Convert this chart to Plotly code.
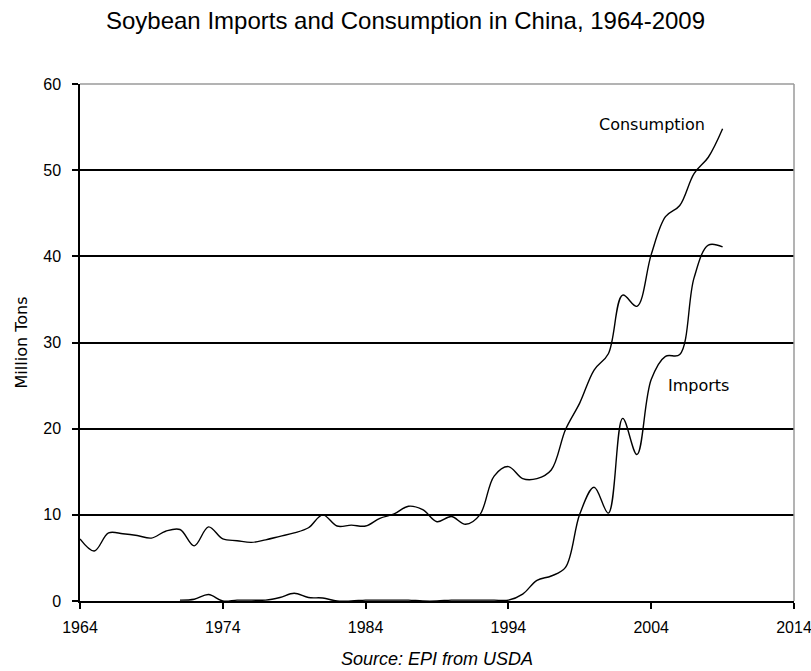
import plotly.graph_objects as go

# Annual series, 1964-2009 (million tons)
years = list(range(1964, 2010))

consumption = [
    7.2, 5.8, 7.9, 7.8, 7.6, 7.3, 8.1, 8.3, 6.4, 8.6,      # 1964-1973
    7.2, 7.0, 6.8, 7.1, 7.5, 7.9, 8.5, 10.0, 8.7, 8.8,     # 1974-1983
    8.7, 9.6, 10.1, 11.0, 10.6, 9.2, 9.8, 8.9, 10.0, 14.5, # 1984-1993
    15.6, 14.2, 14.2, 15.2, 19.9, 23.0, 26.8, 28.7, 35.5, 34.2,  # 1994-2003
    40.2, 44.6, 45.9, 49.6, 51.5, 54.8,                    # 2004-2009
]

imports = [
    None, None, None, None, None, None, None, 0.1, 0.2, 0.75,  # 1964-1973
    0.0, 0.1, 0.1, 0.1, 0.4, 0.9, 0.4, 0.35, 0.0, 0.0,         # 1974-1983
    0.1, 0.1, 0.1, 0.1, 0.0, 0.0, 0.1, 0.1, 0.1, 0.1,          # 1984-1993
    0.1, 0.8, 2.4, 2.9, 3.9, 10.1, 13.2, 10.2, 21.2, 17.0,     # 1994-2003
    25.7, 28.4, 28.6, 37.5, 41.3, 41.1,                        # 2004-2009
]

x_ticks = [1964, 1974, 1984, 1994, 2004, 2014]
y_ticks = [0, 10, 20, 30, 40, 50, 60]

FONT = "Liberation Sans, Arial, sans-serif"
LABEL_FONT = "DejaVu Sans, Verdana, sans-serif"

fig = go.Figure()

line_style = dict(color="black", width=1.4, shape="spline", smoothing=1.0)

fig.add_trace(go.Scatter(x=years, y=consumption, mode="lines", name="Consumption",
                         line=line_style, connectgaps=False, hoverinfo="x+y"))
fig.add_trace(go.Scatter(x=years, y=imports, mode="lines", name="Imports",
                         line=line_style, connectgaps=False, hoverinfo="x+y"))

# Series labels written next to the curves
fig.add_annotation(x=2004.06, y=55.3, text="Consumption", showarrow=False,
                   font=dict(family=LABEL_FONT, size=16, color="black"))
fig.add_annotation(x=2007.3, y=25.0, text="Imports", showarrow=False,
                   font=dict(family=LABEL_FONT, size=16, color="black"))

# Source note under the axis
fig.add_annotation(x=0.5, y=-0.113, xref="paper", yref="paper",
                   xanchor="center", yanchor="middle",
                   text="<i>Source: EPI from USDA</i>", showarrow=False,
                   font=dict(family=FONT, size=18, color="black"))

# Grey frame on the top and right sides of the plot area
fig.add_shape(type="line", xref="paper", yref="paper", x0=0, x1=1, y0=1, y1=1,
              line=dict(color="#9a9a9a", width=1.5), layer="above")
fig.add_shape(type="line", xref="paper", yref="paper", x0=1, x1=1, y0=0, y1=1,
              line=dict(color="#9a9a9a", width=1.5), layer="above")

fig.update_layout(
    width=811, height=671,
    margin=dict(l=80, r=17, t=84, b=70),
    paper_bgcolor="white", plot_bgcolor="white",
    showlegend=False,
    font=dict(family=FONT, size=16, color="black"),
    title=dict(text="Soybean Imports and Consumption in China, 1964-2009",
               x=0.5, xanchor="center", y=0.969, yanchor="middle",
               font=dict(family=FONT, size=24, color="black")),
    xaxis=dict(range=[1964, 2014], tickvals=x_ticks, ticktext=[str(t) for t in x_ticks],
               showgrid=False, zeroline=False, showline=True, linecolor="black", linewidth=1.5,
               ticks="outside", ticklen=6, tickcolor="black", tickwidth=1.5,
               ticklabeloverflow="allow", automargin=False,
               ticklabelstandoff=5, tickfont=dict(family=FONT, size=16, color="black")),
    yaxis=dict(range=[0, 60], tickvals=y_ticks, ticktext=[str(t) for t in y_ticks],
               showgrid=True, gridcolor="black", gridwidth=1.5, zeroline=False,
               showline=True, linecolor="black", linewidth=1.5, automargin=False,
               ticks="outside", ticklen=6, tickcolor="black", tickwidth=1.5,
               ticklabelstandoff=8, tickfont=dict(family=FONT, size=16, color="black")),
    yaxis_title=dict(text="Million Tons", standoff=12,
                     font=dict(family=LABEL_FONT, size=16, color="black")),
)

fig.write_html("out.html")
